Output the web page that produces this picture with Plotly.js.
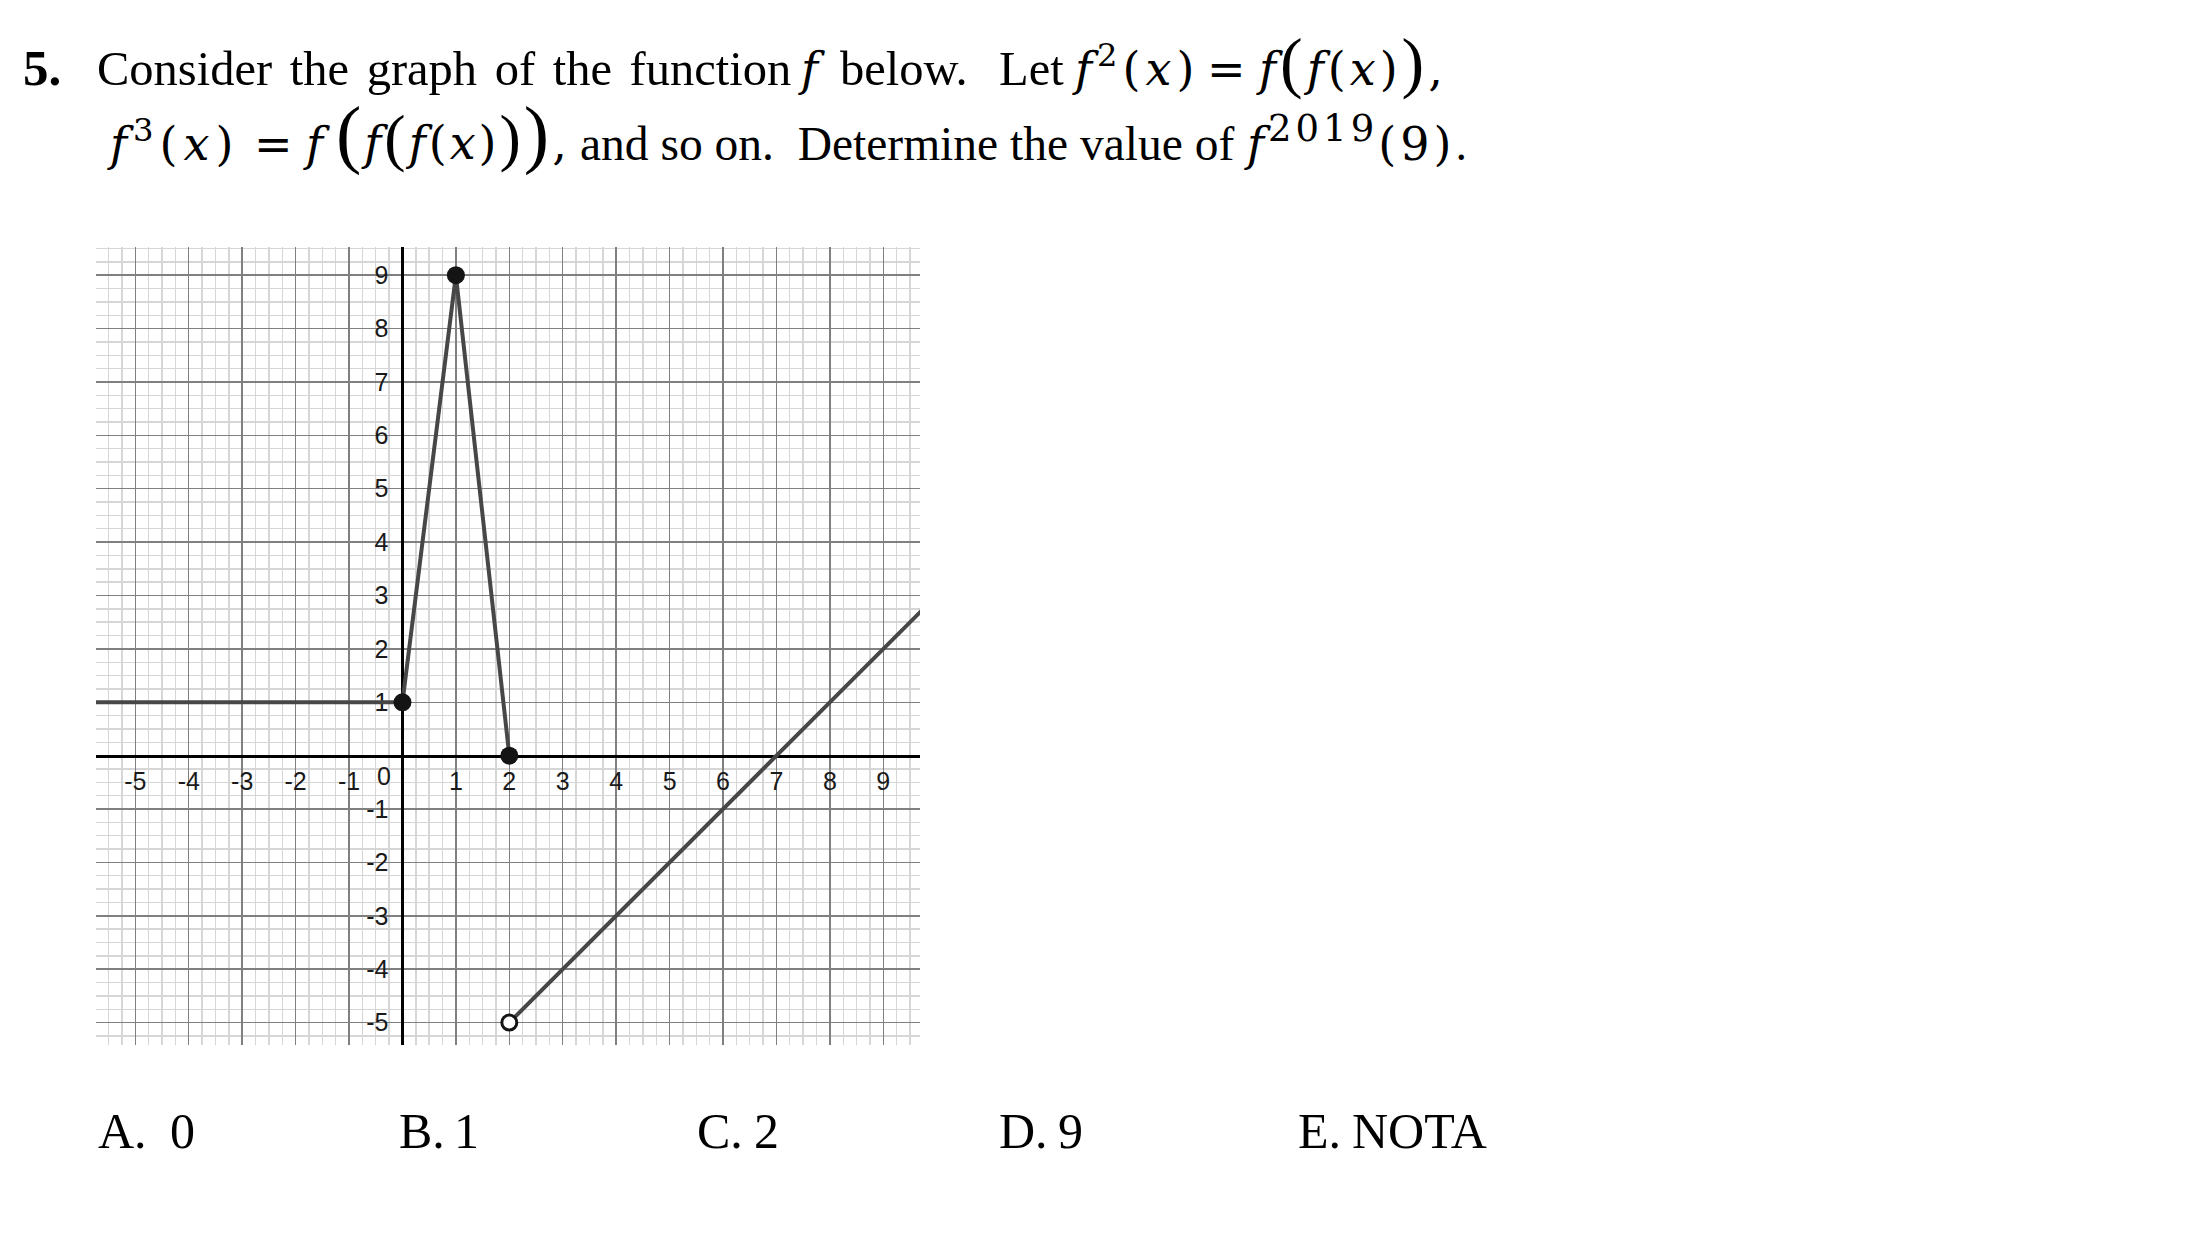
<!DOCTYPE html>
<html>
<head>
<meta charset="utf-8">
<script src="https://cdn.plot.ly/plotly-3.0.1.min.js"></script>
<style>
  html, body { margin: 0; padding: 0; background: #fff; }
  #chart { width: 2195px; height: 1233px; }
</style>
</head>
<body>
<div id="chart"></div>
<script>
// ---------------- data ----------------
const xTickVals = [-5, -4, -3, -2, -1, 1, 2, 3, 4, 5, 6, 7, 8, 9];
const xTickText = ['-5', '-4', '-3', '-2', '-1', '1', '2', '3', '4', '5', '6', '7', '8', '9'];
const yTickVals = [-5, -4, -3, -2, -1, 1, 2, 3, 4, 5, 6, 7, 8, 9];
const yTickText = ['-5', '-4', '-3', '-2', '-1', '1', '2', '3', '4', '5', '6', '7', '8', '9'];
const originLabel = '0';

// piece 1: constant y = 1 for x < 0
const piece1X = [-6, 0];
const piece1Y = [1, 1];
// piece 2: (0,1) -> (1,9) -> (2,0)
const piece2X = [0, 1, 2];
const piece2Y = [1, 9, 0];
// piece 3: line from (2,-5) rising with slope 1
const piece3X = [2, 10];
const piece3Y = [-5, 3];
// closed (filled) points
const closedX = [0, 1, 2];
const closedY = [1, 9, 0];
// open point
const openX = [2];
const openY = [-5];

const choiceLetters = ['A.', 'B.', 'C.', 'D.', 'E.'];
const choiceValues = ['0', '1', '2', '9', 'NOTA'];

// ---------------- layout helpers ----------------
const W = 2195, H = 1233;
const PL = 96, PR = 920, PT = 247, PB = 1045;
const xRange = [-5.736, 9.687];
const yRange = [-5.42, 9.528];
const px = v => (v - PL) / (PR - PL);
const py = v => (PB - v) / (PB - PT);

const serif = 'Liberation Serif, Times New Roman, serif';
const mathF = 'DejaVu Serif, serif';
const sans = 'Liberation Sans, Arial, sans-serif';
const lineColor = '#474747';
const dotColor = '#141414';

const traces = [
  { x: piece1X, y: piece1Y, mode: 'lines', line: { color: lineColor, width: 4 }, hoverinfo: 'skip' },
  { x: piece2X, y: piece2Y, mode: 'lines', line: { color: lineColor, width: 4 }, hoverinfo: 'skip' },
  { x: piece3X, y: piece3Y, mode: 'lines', line: { color: lineColor, width: 4 }, hoverinfo: 'skip' },
  { x: closedX, y: closedY, mode: 'markers', marker: { size: 18, color: dotColor }, hoverinfo: 'skip' },
  { x: openX, y: openY, mode: 'markers', marker: { size: 15, color: '#ffffff', line: { color: dotColor, width: 3 } }, hoverinfo: 'skip' }
];

const tickFont = { family: sans, size: 25, color: '#1a1a1a' };

// text placed by its baseline: y given is baseline, desc = font descent in px of the largest glyph run
function txt(text, x, base, size, fam, desc) {
  return {
    text: text, xref: 'paper', yref: 'paper', x: px(x), y: py(base + desc),
    xanchor: 'left', yanchor: 'bottom', showarrow: false,
    font: { family: fam || serif, size: size, color: '#000' }
  };
}

const S = 48.5;    // question font size
const SM = 46;     // math font size
const SA = 50;     // answers font size
const dS = 0.216 * S, dM = 0.236 * SM, dA = 0.216 * SA;
const B1 = 87;     // line 1 baseline
const B2 = 162;    // line 2 baseline
const BA = 1150;   // answers baseline

const ls = (n, s) => '<span style="letter-spacing:' + n + 'px">' + s + '</span>';
const ws = (n, s) => '<span style="word-spacing:' + n + 'px">' + s + '</span>';
const par = (size, ch) => '<span style="font-family:Liberation Serif;font-size:' + size + 'px">' + ch + '</span>';
const up = s => '<span style="font-family:Liberation Serif">' + s + '</span>';
const supBig = s => '<sup><span style="font-size:37px;letter-spacing:4px">' + s + '</span></sup>';
const fi = '<i>f</i>', xi = '<i>x</i>';

const annotations = [
  txt('<b>5.</b>', 21, B1, 51, serif, 0.216 * 51),
  txt(ws(5.5, 'Consider the graph of the function'), 95, B1, S, serif, dS),
  txt(fi, 796, B1, SM, mathF, dM),
  txt('below.', 838, B1, S, serif, dS),
  txt('Let', 997, B1, S, serif, dS),
  txt(ls(5, fi + '<sup>2</sup>(' + xi + ')'), 1070, B1, SM, mathF, dM),
  txt('=', 1205, B1, SM, mathF, dM),
  txt(ls(4, fi + par(68, '(') + fi + '(' + xi + ')' + par(68, ')') + ','), 1254, B1, SM, mathF, 0.216 * 68),

  txt(ls(6, fi + '<sup>3</sup>(' + xi + ')'), 105, B2, SM, mathF, dM),
  txt('=', 252, B2, SM, mathF, dM),
  txt(fi, 301, B2, SM, mathF, dM),
  txt(ls(3, par(76, '(') + fi + par(64, '(') + fi + '(' + xi + ')' + par(64, ')') + par(76, ')') + ','), 334, B2, SM, mathF, 0.216 * 76),
  txt('and so on.  Determine the value of', 578, B2, 47.5, serif, 0.216 * 47.5),
  txt(ls(4, fi + supBig('2019') + '(9)' + up('.')), 1242, B2, SM, mathF, dM),

  { text: originLabel, xref: 'x', yref: 'y', x: 0, y: 0, xanchor: 'right', yanchor: 'top',
    xshift: -9, yshift: -4, showarrow: false, font: tickFont }
];

const choiceX = [96, 397, 695, 997, 1296];
const valueX = [168, 452, 752, 1056, 1350];
for (let i = 0; i < choiceLetters.length; i++) {
  annotations.push(txt(choiceLetters[i], choiceX[i], BA, SA, serif, dA));
  annotations.push(txt(choiceValues[i], valueX[i], BA, SA, serif, dA));
}

const layout = {
  width: W, height: H,
  margin: { l: PL, r: W - PR, t: PT, b: H - PB, pad: 0 },
  paper_bgcolor: '#ffffff', plot_bgcolor: '#ffffff',
  showlegend: false,
  xaxis: {
    range: xRange, tickmode: 'array', tickvals: xTickVals, ticktext: xTickText,
    showgrid: true, gridcolor: '#808080', gridwidth: 1.4,
    zeroline: false, showline: true, linecolor: '#000', linewidth: 3,
    anchor: 'free', position: (0 - yRange[0]) / (yRange[1] - yRange[0]),
    ticks: '', tickfont: tickFont, ticklabelstandoff: 2, layer: 'below traces',
    minor: { tickmode: 'linear', tick0: 0, dtick: 0.25, showgrid: true, gridcolor: '#d6d6d6', gridwidth: 1.4, ticks: '' },
    fixedrange: true
  },
  yaxis: {
    range: yRange, tickmode: 'array', tickvals: yTickVals, ticktext: yTickText,
    showgrid: true, gridcolor: '#808080', gridwidth: 1.4,
    zeroline: false, showline: true, linecolor: '#000', linewidth: 3,
    anchor: 'free', position: (0 - xRange[0]) / (xRange[1] - xRange[0]),
    ticks: '', tickfont: tickFont, ticklabelstandoff: 8, layer: 'below traces',
    minor: { tickmode: 'linear', tick0: 0, dtick: 0.25, showgrid: true, gridcolor: '#d6d6d6', gridwidth: 1.4, ticks: '' },
    fixedrange: true
  },
  annotations: annotations
};

Plotly.newPlot('chart', traces, layout, { staticPlot: true, displayModeBar: false });
</script>
</body>
</html>
